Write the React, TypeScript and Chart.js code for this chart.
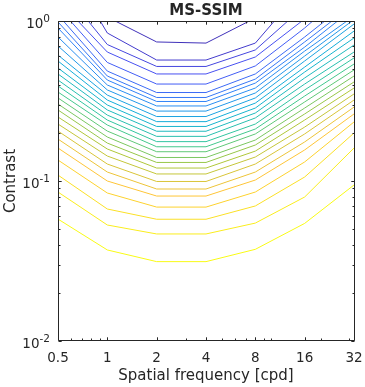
import React, { useEffect, useRef } from "react";
import { Chart, registerables } from "chart.js";

Chart.register(...registerables);

// ---- data ----
const titleText = "MS-SSIM";
const xLabel = "Spatial frequency [cpd]";
const yLabel = "Contrast";

// spatial frequencies (cpd) at which every contour line is sampled
const freqs = [0.5, 1, 2, 4, 8, 16, 32];

const xTicks = [0.5, 1, 2, 4, 8, 16, 32];
const xTickLabels = ["0.5", "1", "2", "4", "8", "16", "32"];
const xMinorTicks = [0.6, 0.7, 0.8, 0.9, 3, 5, 6, 7, 9, 10, 20, 30];
const yTicks = [0.01, 0.1, 1];
const yTickExponents = ["-2", "-1", "0"];
const yMinorTicks = [0.02, 0.03, 0.04, 0.05, 0.06, 0.07, 0.08, 0.09, 0.2, 0.3, 0.4, 0.5, 0.6, 0.7, 0.8, 0.9];

// log10(contrast) of each contour line at the frequencies above (top line first)
const contour01 = [0.569, 0.025, -0.131, -0.138, 0.019, 0.256, 0.506];
const contour02 = [0.444, -0.075, -0.244, -0.244, -0.138, 0.219, 0.569];
const contour03 = [0.231, -0.147, -0.284, -0.284, -0.181, 0.094, 0.381];
const contour04 = [0.131, -0.194, -0.331, -0.331, -0.225, 0.013, 0.294];
const contour05 = [0.088, -0.259, -0.394, -0.394, -0.281, -0.044, 0.225];
const contour06 = [0.038, -0.313, -0.447, -0.447, -0.331, -0.1, 0.144];
const contour07 = [-0.006, -0.344, -0.478, -0.478, -0.363, -0.131, 0.106];
const contour08 = [-0.044, -0.369, -0.503, -0.503, -0.388, -0.163, 0.081];
const contour09 = [-0.1, -0.4, -0.531, -0.531, -0.419, -0.188, 0.031];
const contour10 = [-0.156, -0.431, -0.563, -0.563, -0.45, -0.219, 0.009];
const contour11 = [-0.213, -0.463, -0.597, -0.597, -0.481, -0.25, -0.019];
const contour12 = [-0.25, -0.494, -0.629, -0.629, -0.513, -0.288, -0.063];
const contour13 = [-0.294, -0.525, -0.659, -0.659, -0.544, -0.319, -0.106];
const contour14 = [-0.331, -0.556, -0.689, -0.689, -0.575, -0.356, -0.15];
const contour15 = [-0.369, -0.588, -0.721, -0.721, -0.606, -0.394, -0.194];
const contour16 = [-0.406, -0.619, -0.754, -0.754, -0.644, -0.431, -0.231];
const contour17 = [-0.444, -0.65, -0.786, -0.786, -0.675, -0.469, -0.269];
const contour18 = [-0.481, -0.688, -0.817, -0.817, -0.706, -0.506, -0.306];
const contour19 = [-0.519, -0.725, -0.853, -0.853, -0.744, -0.544, -0.344];
const contour20 = [-0.556, -0.763, -0.884, -0.884, -0.775, -0.581, -0.381];
const contour21 = [-0.6, -0.8, -0.919, -0.919, -0.813, -0.619, -0.419];
const contour22 = [-0.644, -0.844, -0.956, -0.956, -0.85, -0.663, -0.456];
const contour23 = [-0.688, -0.894, -1.003, -1.003, -0.894, -0.706, -0.494];
const contour24 = [-0.738, -0.944, -1.05, -1.05, -0.944, -0.756, -0.538];
const contour25 = [-0.794, -1.0, -1.094, -1.094, -0.994, -0.806, -0.581];
const contour26 = [-0.869, -1.075, -1.163, -1.163, -1.069, -0.881, -0.631];
const contour27 = [-0.963, -1.175, -1.239, -1.239, -1.156, -0.975, -0.7];
const contour28 = [-1.069, -1.275, -1.331, -1.331, -1.263, -1.1, -0.794];
const contour29 = [-1.238, -1.431, -1.504, -1.504, -1.427, -1.265, -1.025];

const contours = [
  contour01, contour02, contour03, contour04, contour05, contour06, contour07, contour08,
  contour09, contour10, contour11, contour12, contour13, contour14, contour15, contour16,
  contour17, contour18, contour19, contour20, contour21, contour22, contour23, contour24,
  contour25, contour26, contour27, contour28, contour29,
];

// ---- styling: parula(8) anchor colours ----
const parulaStops: [number, number, number][] = [
  [62, 38, 168],
  [72, 82, 244],
  [46, 135, 247],
  [18, 177, 214],
  [55, 200, 151],
  [171, 199, 57],
  [254, 195, 56],
  [249, 251, 21],
];

function parula(t: number): string {
  const v = Math.max(0, Math.min(1, t)) * (parulaStops.length - 1);
  const i = Math.min(parulaStops.length - 2, Math.floor(v));
  const f = v - i;
  const a = parulaStops[i];
  const b = parulaStops[i + 1];
  const c = [0, 1, 2].map((k) => Math.round(a[k] + (b[k] - a[k]) * f));
  return `rgb(${c[0]},${c[1]},${c[2]})`;
}

const INK = "#262626";
const FONT = "'DejaVu Sans', sans-serif";

const framePlugin = {
  id: "matlabFrame",
  afterDraw(chart: any) {
    const { ctx, chartArea: a, scales } = chart;
    const xs = scales.x;
    const ys = scales.y;
    const L = Math.round(a.left) + 0.5;
    const R = Math.round(a.right) + 0.5;
    const T = Math.round(a.top) + 0.5;
    const B = Math.round(a.bottom) - 0.5;
    ctx.save();
    ctx.strokeStyle = INK;
    ctx.lineWidth = 1;
    ctx.beginPath();
    ctx.rect(L, T, R - L, B - T);
    ctx.stroke();

    const major = 3.2;
    const minor = 2;
    ctx.beginPath();
    const vTick = (val: number, len: number) => {
      const px = Math.round(xs.getPixelForValue(val)) + 0.5;
      ctx.moveTo(px, B);
      ctx.lineTo(px, B - len);
      ctx.moveTo(px, T);
      ctx.lineTo(px, T + len);
    };
    const hTick = (val: number, len: number) => {
      const py = Math.round(ys.getPixelForValue(val)) + 0.5;
      ctx.moveTo(L, py);
      ctx.lineTo(L + len, py);
      ctx.moveTo(R, py);
      ctx.lineTo(R - len, py);
    };
    xTicks.forEach((v) => vTick(v, major));
    xMinorTicks.forEach((v) => vTick(v, minor));
    yTicks.forEach((v) => hTick(v, major));
    yMinorTicks.forEach((v) => hTick(v, minor));
    ctx.stroke();

    ctx.fillStyle = INK;
    // x tick labels
    ctx.font = `13.5px ${FONT}`;
    ctx.textAlign = "center";
    ctx.textBaseline = "alphabetic";
    xTicks.forEach((v, i) => {
      ctx.fillText(xTickLabels[i], xs.getPixelForValue(v), a.bottom + 21);
    });

    // y tick labels: 10 with superscript exponent
    const rightEdge = a.left - 8;
    yTicks.forEach((v, i) => {
      const py = ys.getPixelForValue(v);
      ctx.font = `10.5px ${FONT}`;
      ctx.textAlign = "right";
      ctx.textBaseline = "alphabetic";
      const exp = yTickExponents[i];
      const ew = ctx.measureText(exp).width;
      ctx.fillText(exp, rightEdge, py + 1);
      ctx.font = `13.5px ${FONT}`;
      ctx.fillText("10", rightEdge - ew, py + 7);
    });

    // axis labels
    ctx.font = `15px ${FONT}`;
    ctx.textAlign = "center";
    ctx.textBaseline = "alphabetic";
    ctx.fillText(xLabel, (a.left + a.right) / 2, a.bottom + 39);

    ctx.save();
    ctx.translate(15, (a.top + a.bottom) / 2);
    ctx.rotate(-Math.PI / 2);
    ctx.fillText(yLabel, 0, 0);
    ctx.restore();

    // title
    ctx.font = `bold 15px ${FONT}`;
    ctx.fillText(titleText, (a.left + a.right) / 2, 15);
    ctx.restore();
  },
};

export default function App() {
  const canvasRef = useRef<HTMLCanvasElement | null>(null);

  useEffect(() => {
    document.body.style.margin = "0";
    const canvas = canvasRef.current;
    if (!canvas) return;
    const datasets = contours.map((logC, i) => ({
      label: `level ${i + 1}`,
      data: freqs.map((f, j) => ({ x: f, y: Math.pow(10, logC[j]) })),
      borderColor: parula((i + 1) / contours.length),
      backgroundColor: "transparent",
      borderWidth: 1,
      pointRadius: 0,
      fill: false,
      tension: 0,
    }));
    const chart = new Chart(canvas, {
      type: "line",
      data: { datasets },
      options: {
        animation: false,
        responsive: false,
        maintainAspectRatio: false,
        layout: { padding: { left: 58, right: 11, top: 21, bottom: 46 } },
        plugins: { legend: { display: false }, tooltip: { enabled: false }, title: { display: false } },
        scales: {
          x: { type: "logarithmic", min: 0.5, max: 32, display: false },
          y: { type: "logarithmic", min: 0.01, max: 1, display: false },
        },
      },
      plugins: [framePlugin],
    });
    return () => chart.destroy();
  }, []);

  return (
    <div style={{ width: 365, height: 387, background: "#fff" }}>
      <canvas ref={canvasRef} width={365} height={387} style={{ display: "block" }} />
    </div>
  );
}
